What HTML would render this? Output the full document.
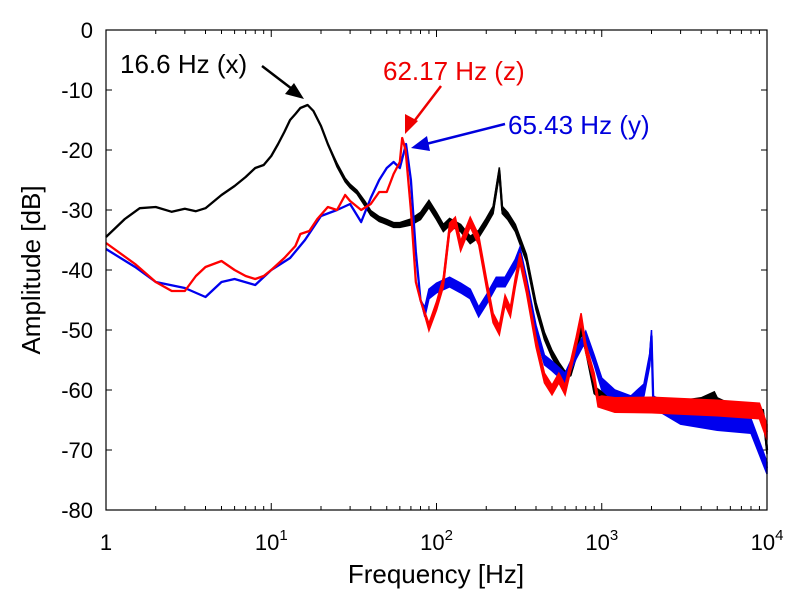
<!DOCTYPE html>
<html><head><meta charset="utf-8"><style>
body{margin:0;background:#fff}
svg{display:block;font-family:"Liberation Sans",Arial,sans-serif}
</style></head><body>
<svg id="chart" width="800" height="600" viewBox="0 0 800 600">
<rect width="800" height="600" fill="#fff"/>
<g id="ticks"></g>
<g id="series"></g>
<rect x="106" y="30" width="661" height="480" fill="none" stroke="#000" stroke-width="1.2"/>
<g id="labels"></g>
<text x="436" y="583" font-size="26" text-anchor="middle">Frequency [Hz]</text>
<text transform="translate(40,270) rotate(-90)" font-size="26" text-anchor="middle">Amplitude [dB]</text>
<text x="120" y="73" font-size="26" fill="#000">16.6 Hz (x)</text>
<text x="383" y="80" font-size="26" fill="#e00">62.17 Hz (z)</text>
<text x="508" y="134" font-size="26" fill="#00d">65.43 Hz (y)</text>
<g><line x1="262" y1="66" x2="296" y2="92" stroke="#000" stroke-width="2.5"/><polygon points="304,99 285,94 294,83" fill="#000"/></g>
<g><line x1="441" y1="86" x2="412" y2="124" stroke="#e00" stroke-width="2.5"/><polygon points="405,134 405,114 418,121" fill="#e00"/></g>
<g><line x1="505" y1="124" x2="422" y2="145" stroke="#00d" stroke-width="2.5"/><polygon points="411,148 427,136 430,151" fill="#00d"/></g>
</svg>
<script>
const yTicks=[0,-10,-20,-30,-40,-50,-60,-70,-80];
const xDecades=[0,1,2,3,4];
const xFreq=[1,1.3,1.6,2,2.5,3,3.5,4,5,6,7,8,9,10,11,12,13,14,15,16.6,18,20,22,25,28,30,33,37,40,45,50,55,60,70,80,90,100,110,120,140,160,180,200,220,240,250,270,300,350,400,450,500,550,600,650,700,750,800,900,1000,1200,1500,2000,3000,4000,4800,5000,6000,8000,9500,10000];
const xVals=[-34.5,-31.5,-29.7,-29.5,-30.3,-29.8,-30.2,-29.7,-27.5,-26,-24.5,-23,-22.5,-21,-19,-17,-15,-14,-13,-12.5,-13.5,-16,-19,-22.5,-25,-26,-27,-29,-30.5,-31.5,-32,-32.5,-32.5,-32,-31,-29,-31,-33,-32,-33,-35,-34,-32,-30,-23.5,-30,-31,-33,-38,-46,-51,-54,-56,-57.5,-57,-54,-50,-53,-60,-61,-62,-63,-63,-62.5,-62,-61,-62,-63,-63.5,-64,-70];
const xSpread=[0,0,0,0,0,0,0,0,0,0,0,0,0,0,0,0,0,0,0,0,0,0,0,0.3,0.3,0.3,0.3,0.4,0.4,0.4,0.4,0.4,0.4,0.5,0.6,0.6,0.6,0.6,0.6,0.6,0.6,0.6,0.6,0.6,0.6,0.6,0.6,0.6,0.6,0.6,0.6,0.6,0.6,0.6,0.6,0.6,0.6,0.6,0.6,0.7,0.7,0.7,0.7,0.7,0.7,0.7,0.7,0.7,0.7,0.7,0.7];
const zFreq=[1,1.5,2,2.5,3,3.5,4,5,6,7,8,9,10,12,14,15,17,19,22,25,28,30,35,40,45,50,55,60,62,65,70,75,80,90,100,110,120,130,140,160,180,200,220,240,260,280,300,320,350,400,450,500,550,600,700,750,800,900,950,1000,1200,2000,5000,9000,10000];
const zVals=[-35.5,-39,-42,-43.5,-43.5,-41,-39.5,-38.5,-40,-41,-41.5,-41,-40,-38,-36,-34,-33.5,-31.5,-29.5,-30,-27.5,-28.5,-30,-29,-27,-27,-24,-22,-18,-20,-30,-42,-45,-49.5,-46,-42,-33,-32,-36,-32,-35,-42,-48,-50,-45,-47,-42,-38,-43,-52,-58,-60,-58,-60,-52,-48,-53,-58,-62,-62,-62.5,-62.5,-63,-63.5,-67];
const zSpread=[0,0,0,0,0,0,0,0,0,0,0,0,0,0,0,0,0,0,0,0,0,0,0,0,0,0,0,0,0,0,0,0,0,0.6,0.7,0.8,0.8,0.8,0.8,0.8,0.8,0.8,0.8,0.8,0.8,0.8,0.8,0.8,0.8,0.8,0.8,0.8,0.8,0.8,0.8,0.8,0.8,0.8,0.8,1,1.2,1.3,1.3,1.3,1.3];
const yFreq=[1,1.5,2,3,4,5,6,8,10,13,16,20,25,30,35,40,45,50,55,60,65.4,70,75,80,85,90,100,120,140,160,180,200,230,260,300,320,350,400,450,500,600,700,800,900,1000,1200,1500,1800,1950,2000,2050,3000,5000,8000,10000];
const yVals=[-36.5,-39.5,-42,-43,-44.5,-42,-41.5,-42.5,-40,-38,-35,-31,-30,-29,-32,-28,-25,-23,-22,-23,-19,-25,-37,-45,-47,-44,-43,-42,-43,-44,-47,-45,-42,-42,-39,-37,-42,-50,-55,-56,-58,-54,-51,-55,-59,-61,-62,-60,-55,-51,-62,-64.5,-65.5,-66,-73];
const ySpread=[0,0,0,0,0,0,0,0,0,0,0,0,0,0,0,0,0,0,0,0,0,0,0,0,0.8,0.8,0.8,0.8,0.8,0.8,0.8,0.8,0.8,0.8,0.8,0.8,0.8,0.8,0.8,0.8,0.8,0.8,0.8,0.8,1,1,1,1,1,1,1,1.2,1.2,1.2,1];

const X0=106,X1=767,Y0=30,Y1=510;
const sx=f=>X0+(Math.log10(f)/4)*(X1-X0);
const sy=v=>Y0+(0-v)/80*(Y1-Y0);
const NS='http://www.w3.org/2000/svg';
function mk(t,a,p){const e=document.createElementNS(NS,t);for(const k in a)e.setAttribute(k,a[k]);p.appendChild(e);return e;}
const tg=document.getElementById('ticks'),lg=document.getElementById('labels'),sg=document.getElementById('series');
yTicks.forEach(v=>{const y=sy(v);
 const a=mk('line',{x1:X0,y1:y,x2:X0+6,y2:y,stroke:'#000'},tg);
 
 
 mk('line',{x1:X1,y1:y,x2:X1-6,y2:y,stroke:'#000'},tg);
 const t=mk('text',{x:93,y:y+8,'font-size':22,'text-anchor':'end'},lg);t.textContent=v;
 
 
});
xDecades.forEach(d=>{const x=sx(Math.pow(10,d));
 mk('line',{x1:x,y1:Y1,x2:x,y2:Y1-7,stroke:'#000'},tg);mk('line',{x1:x,y1:Y0,x2:x,y2:Y0+7,stroke:'#000'},tg);
 if(d<4)for(let m=2;m<10;m++){const xm=sx(m*Math.pow(10,d));mk('line',{x1:xm,y1:Y1,x2:xm,y2:Y1-4,stroke:'#000'},tg);mk('line',{x1:xm,y1:Y0,x2:xm,y2:Y0+4,stroke:'#000'},tg);}
 const t=mk('text',{x:x,y:550,'font-size':22,'text-anchor':'middle'},lg);
 
 
 if(d===0)t.textContent='1';else{t.textContent='10';const s=mk('tspan',{dy:-10,'font-size':15},t);s.textContent=d;}
});
function draw(fr,vals,sp,col,name){
 let up=[],dn=[];
 fr.forEach((f,i)=>{up.push(sx(f)+','+sy(vals[i]+sp[i]));dn.push(sx(f)+','+sy(vals[i]-sp[i]));});
 const band=mk('polygon',{points:up.concat(dn.reverse()).join(' '),fill:col,stroke:col,'stroke-width':1.5},sg);
 
 
 const p=mk('polyline',{points:fr.map((f,i)=>sx(f)+','+sy(vals[i])).join(' '),fill:'none',stroke:col,'stroke-width':2.3,'stroke-linejoin':'round'},sg);
 
 
}
draw(xFreq,xVals,xSpread,'#000','series-x');
draw(yFreq,yVals,ySpread,'#00e','series-y');
draw(zFreq,zVals,zSpread,'#f00','series-z');
</script>
</body></html>
